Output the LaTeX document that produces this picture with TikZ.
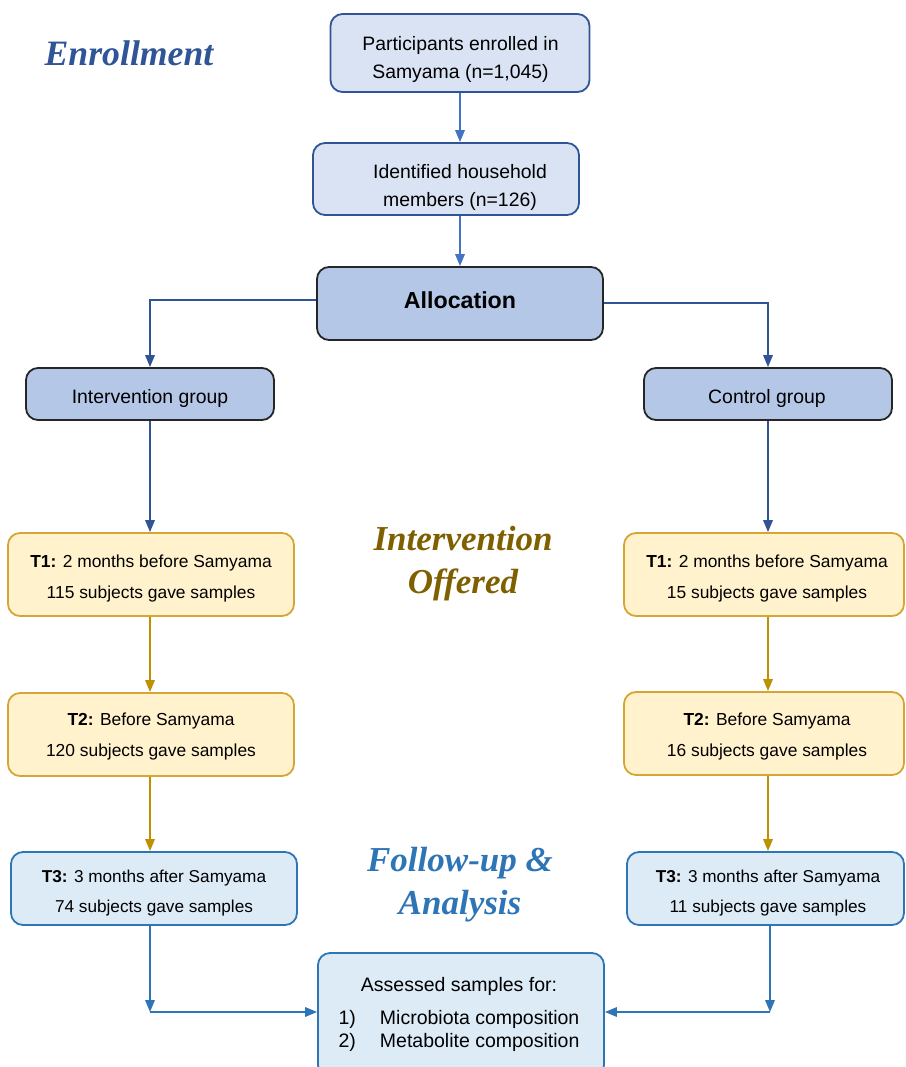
\documentclass[tikz,border=0pt]{standalone}
\usepackage{fontspec}
\setmainfont{Liberation Sans}
\newfontfamily\titlefont{Liberation Serif}
\usetikzlibrary{arrows.meta}
\definecolor{enrBorder}{HTML}{2F5597}
\definecolor{enrFill}{HTML}{DAE3F3}
\definecolor{allocFill}{HTML}{B4C7E7}
\definecolor{darkBorder}{HTML}{262626}
\definecolor{arrTop}{HTML}{4472C4}
\definecolor{arrAlloc}{HTML}{2F5597}
\definecolor{goldFill}{HTML}{FFF2CC}
\definecolor{goldBorder}{HTML}{D5A536}
\definecolor{goldArr}{HTML}{BF9000}
\definecolor{fuFill}{HTML}{DDEBF7}
\definecolor{fuBorder}{HTML}{2E75B6}
\definecolor{brownTitle}{HTML}{7F6000}
\tikzset{
  box/.style={draw, rounded corners=12pt, line width=1.8pt, inner sep=0pt},
  enrbox/.style={box, draw=enrBorder, fill=enrFill},
  allocbox/.style={box, draw=darkBorder, fill=allocFill},
  goldbox/.style={box, draw=goldBorder, fill=goldFill},
  fubox/.style={box, draw=fuBorder, fill=fuFill},
  txt/.style={align=center, inner sep=0pt, font=\fontsize{19.4}{28}\selectfont},
  stxt/.style={align=center, inner sep=0pt, font=\fontsize{17.4}{31}\selectfont},
  title/.style={font=\titlefont\bfseries\itshape\fontsize{35}{43}\selectfont, align=center, inner sep=0pt},
  conn/.style={line width=1.7pt, -{Triangle[length=12pt,width=9.5pt]}},
}
\begin{document}
\begin{tikzpicture}[x=1pt,y=-1pt]
\useasboundingbox (0,0) rectangle (905,1067);
% titles
\node[title, text=enrBorder, font=\titlefont\bfseries\itshape\fontsize{35.7}{43}\selectfont] (tEnr) at (129,53) {Enrollment};
\node[title, text=brownTitle] (tInt) at (463,564) {Intervention\\Offered};
\node[title, text=fuBorder] (tFu) at (460,885) {Follow-up \&\\Analysis};
% boxes
\node[enrbox, minimum width=259pt, minimum height=78pt] (enr) at (460,53) {};
\node[txt] (enrT) at (460.5,59.5) {Participants enrolled in\\Samyama (n=1,045)};
\node[enrbox, minimum width=266pt, minimum height=72pt] (ident) at (446,179) {};
\node[txt] (identT) at (460,187) {Identified household\\members (n=126)};
\node[allocbox, minimum width=286pt, minimum height=73pt] (alloc) at (460,303.5) {};
\node[txt, font=\bfseries\fontsize{23.2}{26}\selectfont] (allocT) at (460,300) {Allocation};
\node[allocbox, minimum width=248pt, minimum height=52pt] (igrp) at (150,394) {};
\node[txt] (igrpT) at (150,398) {Intervention group};
\node[allocbox, minimum width=248pt, minimum height=52pt] (cgrp) at (768,394) {};
\node[txt] (cgrpT) at (767,398) {Control group};
\node[goldbox, minimum width=286pt, minimum height=83pt] (t1l) at (151,574.5) {};
\node[stxt] (t1lT) at (151,578.5) {\textbf{T1:} 2 months before Samyama\\115 subjects gave samples};
\node[goldbox, minimum width=280pt, minimum height=83pt] (t1r) at (764,574.5) {};
\node[stxt] (t1rT) at (767,578.5) {\textbf{T1:} 2 months before Samyama\\15 subjects gave samples};
\node[goldbox, minimum width=286pt, minimum height=83pt] (t2l) at (151,734.5) {};
\node[stxt] (t2lT) at (151,737) {\textbf{T2:} Before Samyama\\120 subjects gave samples};
\node[goldbox, minimum width=280pt, minimum height=83pt] (t2r) at (764,733.5) {};
\node[stxt] (t2rT) at (767,736.5) {\textbf{T2:} Before Samyama\\16 subjects gave samples};
\node[fubox, minimum width=286pt, minimum height=73pt] (t3l) at (154,888.5) {};
\node[stxt, font=\fontsize{17.2}{30}\selectfont] (t3lT) at (154,893) {\textbf{T3:} 3 months after Samyama\\74 subjects gave samples};
\node[fubox, minimum width=277pt, minimum height=73pt] (t3r) at (765.5,888.5) {};
\node[stxt, font=\fontsize{17.2}{30}\selectfont] (t3rT) at (768,893) {\textbf{T3:} 3 months after Samyama\\11 subjects gave samples};
\node[fubox, minimum width=286pt, minimum height=124pt] (final) at (461,1015) {};
\node[txt, font=\fontsize{19.5}{23}\selectfont] (finalT) at (459,1016)
  {Assessed samples for:\\[12pt]
   \begin{tabular}{@{}l@{\hspace{24pt}}l@{}}1) & Microbiota composition\\ 2) & Metabolite composition\end{tabular}};
% connectors
\coordinate (cl) at (150,1012);
\coordinate (cr) at (770,1012);
\draw[conn, draw=arrTop] (enr.south) -- (enr.south |- ident.north);
\draw[conn, draw=arrTop] (alloc.north |- ident.south) -- (alloc.north);
\draw[conn, draw=arrAlloc] ([yshift=3.5pt]alloc.west) -| (igrp.north);
\draw[conn, draw=arrAlloc] ([yshift=0.5pt]alloc.east) -| (cgrp.north);
\draw[conn, draw=arrAlloc] (igrp.south) -- (igrp.south |- t1l.north);
\draw[conn, draw=arrAlloc] (cgrp.south) -- (cgrp.south |- t1r.north);
\draw[conn, draw=goldArr] (t1l.south -| igrp.south) -- (t2l.north -| igrp.south);
\draw[conn, draw=goldArr] (t1r.south -| cgrp.south) -- (t2r.north -| cgrp.south);
\draw[conn, draw=goldArr] (t2l.south -| igrp.south) -- (t3l.north -| igrp.south);
\draw[conn, draw=goldArr] (t2r.south -| cgrp.south) -- (t3r.north -| cgrp.south);
\draw[conn, draw=fuBorder] (t3l.south -| cl) -- (cl);
\draw[conn, draw=fuBorder] (cl) -- (cl -| final.west);
\draw[conn, draw=fuBorder] (t3r.south -| cr) -- (cr);
\draw[conn, draw=fuBorder] (cr) -- (cr -| final.east);
\end{tikzpicture}
\end{document}
